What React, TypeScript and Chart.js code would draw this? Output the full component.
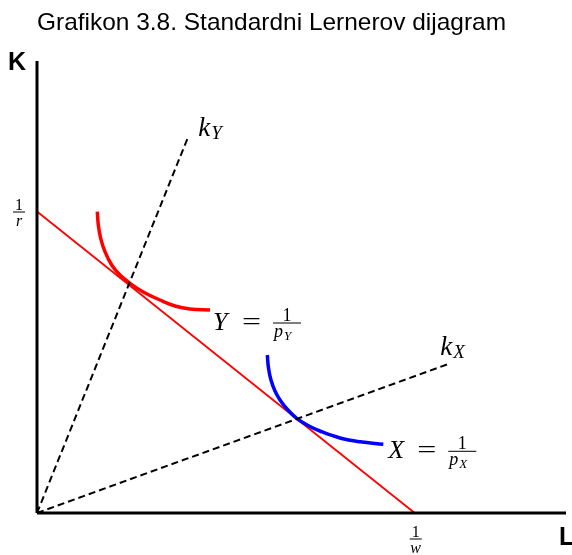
import React, { useEffect, useRef } from "react";
import { Chart, registerables } from "chart.js";

Chart.register(...registerables);

// ---- data (chart units) ----
const TITLE = "Grafikon 3.8. Standardni Lernerov dijagram";
const X_AXIS_LABEL = "L";
const Y_AXIS_LABEL = "K";

const X_AXIS_L = [0, 10];
const X_AXIS_K = [0, 0];
const Y_AXIS_L = [0, 0];
const Y_AXIS_K = [0, 10];

const BUDGET_L = [0, 7.14];
const BUDGET_K = [6.67, 0];

const KY_L = [0, 2.86];
const KY_K = [0, 8.33];
const KX_L = [0, 7.81];
const KX_K = [0, 3.31];

const ISO_Y_L = [1.14, 1.159, 1.204, 1.285, 1.412, 1.569, 1.758, 2.009, 2.325, 2.609, 2.892, 3.27];
const ISO_Y_K = [6.666, 6.372, 6.077, 5.781, 5.487, 5.265, 5.082, 4.889, 4.712, 4.58, 4.513, 4.491];
const ISO_X_L = [4.354, 4.376, 4.423, 4.499, 4.594, 4.726, 4.909, 5.123, 5.369, 5.728, 6.106, 6.546];
const ISO_X_K = [3.496, 3.208, 2.942, 2.699, 2.5, 2.301, 2.095, 1.936, 1.803, 1.659, 1.575, 1.52];

const LABEL_KY = ["k", "Y"];
const LABEL_KX = ["k", "X"];
const LABEL_ISO_Y = ["Y", "=", "1", "p", "Y"];
const LABEL_ISO_X = ["X", "=", "1", "p", "X"];
const LABEL_R = ["1", "r"];
const LABEL_W = ["1", "w"];

const pts = (xs: number[], ys: number[]) => xs.map((x, i) => ({ x, y: ys[i] }));

const SERIF = "'Liberation Serif', 'DejaVu Serif', serif";
const SANS = "'Liberation Sans', Arial, sans-serif";

function drawFraction(
  ctx: CanvasRenderingContext2D,
  cx: number,
  barY: number,
  num: string,
  den: string,
  size: number,
  barW: number
) {
  ctx.textAlign = "center";
  ctx.font = `${size}px ${SERIF}`;
  ctx.fillText(num, cx, barY - 2);
  ctx.font = `italic ${size}px ${SERIF}`;
  ctx.fillText(den, cx, barY + 14);
  ctx.fillRect(cx - barW / 2, barY - 0.5, barW, 1);
  ctx.textAlign = "left";
}

function drawIsoLabel(ctx: CanvasRenderingContext2D, x: number, base: number, parts: string[]) {
  const [v, eq, one, p, sub] = parts;
  ctx.textAlign = "left";
  ctx.textBaseline = "alphabetic";
  ctx.font = `italic 26px ${SERIF}`;
  ctx.fillText(v, x, base);
  ctx.font = `26px ${SERIF}`;
  ctx.save();
  ctx.translate(x + 29, base);
  ctx.scale(1.3, 1);
  ctx.fillText(eq, 0, 0);
  ctx.restore();
  const b0 = x + 60;
  const b1 = x + 88;
  const by = base - 7;
  ctx.fillRect(b0, by - 0.5, b1 - b0, 1);
  ctx.font = `18px ${SERIF}`;
  ctx.textAlign = "center";
  ctx.fillText(one, (b0 + b1) / 2, by - 2);
  ctx.textAlign = "left";
  ctx.font = `italic 18px ${SERIF}`;
  ctx.fillText(p, b0 + 1, by + 14);
  const pw = ctx.measureText(p).width;
  ctx.font = `italic 13px ${SERIF}`;
  ctx.fillText(sub, b0 + 1 + pw + 1, by + 17);
}

function drawK(ctx: CanvasRenderingContext2D, x: number, base: number, parts: string[]) {
  ctx.textAlign = "left";
  ctx.font = `italic 27px ${SERIF}`;
  ctx.fillText(parts[0], x, base);
  const w = ctx.measureText(parts[0]).width;
  ctx.font = `italic 19px ${SERIF}`;
  ctx.fillText(parts[1], x + w + 1, base + 3);
}

const textPlugin = {
  id: "lernerText",
  afterDraw(chart: any) {
    const ctx: CanvasRenderingContext2D = chart.ctx;
    const xs = chart.scales.x;
    const ys = chart.scales.y;
    const px = (v: number) => xs.getPixelForValue(v);
    const py = (v: number) => ys.getPixelForValue(v);
    ctx.save();
    ctx.fillStyle = "#000";
    ctx.textBaseline = "alphabetic";

    // title
    ctx.font = `24px ${SANS}`;
    ctx.textAlign = "left";
    const tw = ctx.measureText(TITLE).width;
    ctx.save();
    ctx.translate(37, 30);
    ctx.scale(469 / tw, 1);
    ctx.fillText(TITLE, 0, 0);
    ctx.restore();

    // axis names
    ctx.font = `bold 25px ${SANS}`;
    ctx.fillText(Y_AXIS_LABEL, 8, 70);
    ctx.fillText(X_AXIS_LABEL, 559, 545);

    // intercepts
    drawFraction(ctx, 19, py(BUDGET_K[0]) + 0.5, LABEL_R[0], LABEL_R[1], 16, 12);
    drawFraction(ctx, px(BUDGET_L[1]) + 1, 539, LABEL_W[0], LABEL_W[1], 16, 12);

    // ray labels
    drawK(ctx, px(KY_L[1]) + 10, py(KY_K[1]), LABEL_KY);
    drawK(ctx, px(KX_L[1]) - 10, py(KX_K[1]) - 8, LABEL_KX);

    // isoquant labels
    const yEnd = ISO_Y_L.length - 1;
    drawIsoLabel(ctx, px(ISO_Y_L[yEnd]) + 3, py(ISO_Y_K[yEnd]) + 20, LABEL_ISO_Y);
    const xEnd = ISO_X_L.length - 1;
    drawIsoLabel(ctx, px(ISO_X_L[xEnd]) + 5, py(ISO_X_K[xEnd]) + 14, LABEL_ISO_X);

    ctx.restore();
  },
};

export default function App() {
  const ref = useRef<HTMLCanvasElement | null>(null);

  useEffect(() => {
    if (!ref.current) return;
    const base = {
      showLine: true,
      pointRadius: 0,
      pointHoverRadius: 0,
      clip: false as const,
      fill: false,
    };
    const chart = new Chart(ref.current, {
      type: "scatter",
      data: {
        datasets: [
          { ...base, data: pts(X_AXIS_L, X_AXIS_K), borderColor: "#000", borderWidth: 3 },
          { ...base, data: pts(Y_AXIS_L, Y_AXIS_K), borderColor: "#000", borderWidth: 3 },
          { ...base, data: pts(KY_L, KY_K), borderColor: "#000", borderWidth: 2, borderDash: [7, 4] },
          { ...base, data: pts(KX_L, KX_K), borderColor: "#000", borderWidth: 2, borderDash: [7, 4] },
          {
            ...base,
            data: pts(ISO_X_L, ISO_X_K),
            borderColor: "#0000ff",
            borderWidth: 3.5,
            tension: 0.4,
            borderCapStyle: "butt",
          },
          {
            ...base,
            data: pts(ISO_Y_L, ISO_Y_K),
            borderColor: "#ff0000",
            borderWidth: 3.5,
            tension: 0.4,
            borderCapStyle: "butt",
          },
          { ...base, data: pts(BUDGET_L, BUDGET_K), borderColor: "#ff0000", borderWidth: 1.8 },
        ],
      },
      options: {
        animation: false,
        responsive: false,
        devicePixelRatio: 1,
        layout: { padding: { left: 37, right: 6, top: 61, bottom: 42 } },
        plugins: {
          legend: { display: false },
          title: { display: false },
          tooltip: { enabled: false },
        },
        events: [],
        scales: {
          x: { type: "linear", display: false, min: 0, max: 10 },
          y: { type: "linear", display: false, min: 0, max: 10 },
        },
      },
      plugins: [textPlugin],
    });
    return () => chart.destroy();
  }, []);

  return (
    <div style={{ position: "absolute", left: 0, top: 0, width: 572, height: 555, background: "#fff" }}>
      <canvas ref={ref} width={572} height={555} />
    </div>
  );
}
